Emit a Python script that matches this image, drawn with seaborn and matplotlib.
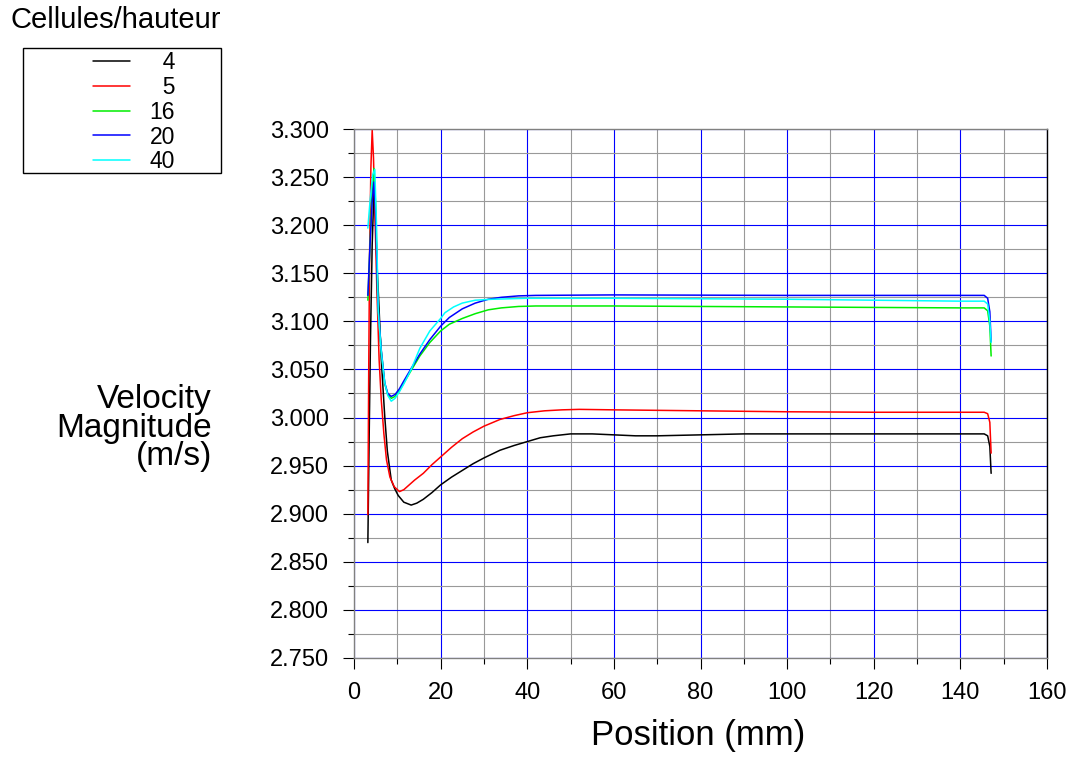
import numpy as np
import pandas as pd
import matplotlib
matplotlib.use("Agg")
import matplotlib.pyplot as plt
from matplotlib.patches import Rectangle
from matplotlib.ticker import MultipleLocator, FormatStrFormatter
import seaborn as sns

# ---------------- data ----------------
series_names = ["4", "5", "16", "20", "40"]
series_colors = ["#000000", "#ff0000", "#00ee00", "#0000ff", "#00ffff"]

x_4 = [3.2, 3.5, 3.8, 4.2, 4.6, 5.0, 5.4, 5.7, 6.3, 7.1, 7.7, 8.6, 9.4, 10.2, 11.5, 13.2,
       14.5, 16.0, 18.0, 20.0, 22.5, 25.0, 27.5, 30.0, 33.7, 37.0, 40.0, 43.0, 46.0, 50.0,
       55.0, 60.0, 65.0, 70.0, 80.0, 90.0, 100.0, 120.0, 140.0, 145.5, 146.3, 146.8, 147.1]
y_4 = [2.870, 2.980, 3.080, 3.180, 3.235, 3.200, 3.150, 3.122, 3.060, 3.001, 2.965, 2.935,
       2.926, 2.919, 2.912, 2.909, 2.911, 2.915, 2.922, 2.930, 2.938, 2.945, 2.952, 2.958,
       2.966, 2.971, 2.975, 2.979, 2.981, 2.983, 2.983, 2.982, 2.981, 2.981, 2.982, 2.983,
       2.983, 2.983, 2.983, 2.983, 2.981, 2.970, 2.942]

x_5 = [3.2, 3.4, 3.6, 3.9, 4.2, 4.5, 4.9, 5.3, 5.8, 6.3, 6.9, 7.5, 8.3, 9.3, 10.5, 11.5,
       12.5, 14.0, 16.0, 18.0, 20.0, 22.5, 25.0, 27.5, 30.0, 33.7, 37.0, 40.0, 44.0, 48.0,
       52.0, 60.0, 80.0, 100.0, 120.0, 140.0, 145.5, 146.3, 146.8, 147.1]
y_5 = [2.899, 3.050, 3.170, 3.260, 3.299, 3.270, 3.200, 3.130, 3.060, 3.018, 2.983, 2.956,
       2.938, 2.928, 2.923, 2.925, 2.929, 2.935, 2.942, 2.951, 2.959, 2.969, 2.978, 2.985,
       2.991, 2.998, 3.002, 3.005, 3.007, 3.008, 3.0085, 3.008, 3.007, 3.006, 3.0055, 3.0055,
       3.0055, 3.004, 2.995, 2.963]

x_16 = [3.2, 3.7, 4.2, 4.6, 5.0, 5.5, 6.3, 7.1, 7.8, 8.6, 9.5, 10.5, 11.5, 13.2, 15.2, 17.5,
        20.0, 22.0, 25.0, 28.0, 31.0, 34.0, 38.0, 42.0, 60.0, 80.0, 100.0, 120.0, 140.0,
        145.5, 146.3, 146.8, 147.1]
y_16 = [3.122, 3.180, 3.235, 3.259, 3.220, 3.120, 3.069, 3.035, 3.024, 3.020, 3.022, 3.028,
        3.036, 3.049, 3.064, 3.078, 3.090, 3.097, 3.103, 3.108, 3.112, 3.114, 3.1155, 3.116,
        3.116, 3.1155, 3.115, 3.1145, 3.114, 3.114, 3.111, 3.095, 3.064]

x_20 = [3.2, 3.7, 4.2, 4.6, 5.0, 5.5, 6.3, 7.1, 7.8, 8.6, 9.5, 10.5, 11.5, 13.2, 15.2, 17.5,
        20.0, 22.0, 25.0, 28.0, 31.0, 34.0, 38.0, 42.0, 60.0, 100.0, 140.0, 145.5, 146.3,
        146.8, 147.1]
y_20 = [3.127, 3.180, 3.225, 3.245, 3.210, 3.120, 3.070, 3.036, 3.025, 3.022, 3.024, 3.030,
        3.038, 3.051, 3.066, 3.081, 3.095, 3.104, 3.113, 3.119, 3.123, 3.125, 3.1265, 3.127,
        3.1275, 3.127, 3.127, 3.127, 3.124, 3.110, 3.079]

x_40 = [3.2, 3.7, 4.3, 4.8, 5.2, 5.6, 6.3, 7.1, 7.8, 8.6, 9.5, 10.5, 11.5, 13.2, 15.2, 17.5,
        20.0, 21.0, 23.0, 25.0, 28.0, 32.0, 40.0, 60.0, 80.0, 100.0, 120.0, 140.0, 145.5,
        146.3, 146.8, 147.1]
y_40 = [3.197, 3.225, 3.252, 3.258, 3.200, 3.110, 3.068, 3.036, 3.023, 3.017, 3.020, 3.027,
        3.035, 3.050, 3.072, 3.090, 3.103, 3.109, 3.115, 3.119, 3.122, 3.123, 3.124, 3.124,
        3.1235, 3.123, 3.122, 3.121, 3.121, 3.118, 3.100, 3.078]

x_lists = [x_4, x_5, x_16, x_20, x_40]
y_lists = [y_4, y_5, y_16, y_20, y_40]

y_ticks = [2.750, 2.800, 2.850, 2.900, 2.950, 3.000, 3.050, 3.100, 3.150, 3.200, 3.250, 3.300]
x_ticks = [0, 20, 40, 60, 80, 100, 120, 140, 160]

legend_title = "Cellules/hauteur"
x_label = "Position (mm)"
y_label = "Velocity\nMagnitude\n(m/s)"

# ---------------- build long-form table ----------------
frames = []
for name, xs, ys in zip(series_names, x_lists, y_lists):
    frames.append(pd.DataFrame({"pos": xs, "vel": ys, "cells": name}))
df = pd.concat(frames, ignore_index=True)

# ---------------- style ----------------
sns.set_theme(style="white")
plt.rcParams["font.family"] = ["Liberation Sans", "DejaVu Sans"]
plt.rcParams["text.color"] = "black"
plt.rcParams["axes.labelcolor"] = "black"
plt.rcParams["xtick.color"] = "black"
plt.rcParams["ytick.color"] = "black"
plt.rcParams["legend.labelcolor"] = "black"

W, H = 1074, 758
fig = plt.figure(figsize=(W / 100, H / 100), dpi=100)
ax = fig.add_axes([354 / W, 1 - 658 / H, (1047 - 354) / W, (658 - 129) / H])

sns.lineplot(data=df, x="pos", y="vel", hue="cells", hue_order=series_names,
             palette=dict(zip(series_names, series_colors)), sort=False,
             estimator=None, units="cells", linewidth=1.1, legend=False, ax=ax)

ax.set_xlim(0, 160)
ax.set_ylim(2.750, 3.300)
ax.set_xticks(x_ticks)
ax.set_yticks(y_ticks)
ax.xaxis.set_minor_locator(MultipleLocator(10))
ax.yaxis.set_minor_locator(MultipleLocator(0.025))
ax.yaxis.set_major_formatter(FormatStrFormatter("%.3f"))

ax.set_axisbelow(True)
ax.grid(which="major", color="#0000ff", linewidth=0.8)
ax.grid(which="minor", color="#999999", linewidth=0.8)

for side in ["left", "bottom", "top"]:
    ax.spines[side].set_color("#808080")
    ax.spines[side].set_linewidth(1.0)
ax.spines["right"].set_color("#000000")
ax.spines["right"].set_linewidth(1.0)

ax.tick_params(which="major", direction="out", length=8, width=0.8, color="black",
               labelsize=17, labelcolor="black", left=True, bottom=True)
ax.tick_params(which="minor", direction="out", length=4, width=0.8, color="black",
               left=True, bottom=True)
ax.tick_params(axis="x", which="major", pad=9)
ax.tick_params(axis="y", which="major", pad=10)

ax.set_xlabel(x_label, fontsize=25, color="black")
ax.xaxis.set_label_coords((698 - 354) / 693, (658 - 736) / 529)
ax.xaxis.label.set_va("center")
ax.set_ylabel(y_label, fontsize=24, color="black", rotation=0, ha="right",
              va="center", linespacing=0.88)
ax.yaxis.set_label_coords((212 - 354) / 693, (658 - 428) / 529)

# ---------------- legend ----------------
handles = ax.get_lines()[:len(series_names)]
pad_labels = ["\u2007" * (2 - len(s)) + s for s in series_names]
leg = fig.legend(handles, pad_labels, loc="upper left",
                 bbox_to_anchor=(93 / W, 1 - 51 / H), bbox_transform=fig.transFigure,
                 frameon=False, fontsize=16.5, borderpad=0, borderaxespad=0,
                 handlelength=37 / 22.9, handletextpad=0.85, labelspacing=0.08)
for t in leg.get_texts():
    t.set_color("black")
fig.add_artist(Rectangle((23 / W, 1 - 173 / H), (221 - 23) / W, (173 - 48) / H,
                         transform=fig.transFigure, fill=False, edgecolor="black",
                         linewidth=1.0))
fig.text(10 / W, 1 - 28 / H, legend_title, fontsize=21, ha="left", va="baseline",
         color="black")

fig.savefig("out.png", dpi=100)
